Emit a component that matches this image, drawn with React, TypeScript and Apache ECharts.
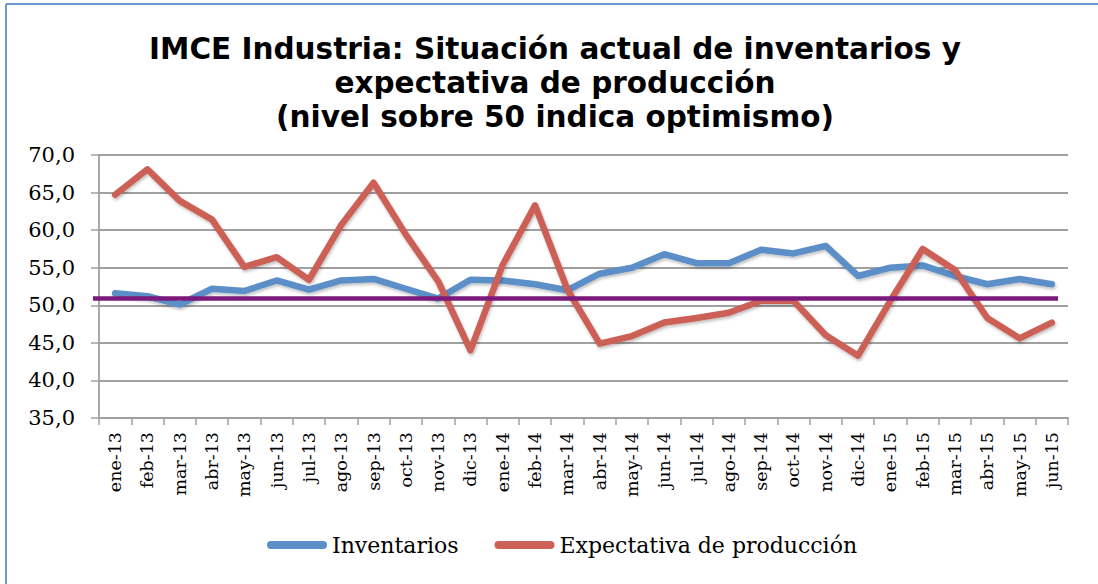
import React, { useEffect, useRef } from "react";
import * as echarts from "echarts";

const categories = [
  "ene-13", "feb-13", "mar-13", "abr-13", "may-13", "jun-13", "jul-13", "ago-13", "sep-13", "oct-13", "nov-13", "dic-13",
  "ene-14", "feb-14", "mar-14", "abr-14", "may-14", "jun-14", "jul-14", "ago-14", "sep-14", "oct-14", "nov-14", "dic-14",
  "ene-15", "feb-15", "mar-15", "abr-15", "may-15", "jun-15",
];

const inventarios = [
  51.6, 51.2, 50.1, 52.2, 51.9, 53.3, 52.1, 53.3, 53.5, 52.2, 50.9, 53.4,
  53.3, 52.8, 52.0, 54.2, 55.0, 56.8, 55.6, 55.6, 57.4, 56.9, 57.9, 53.9,
  55.0, 55.3, 53.9, 52.8, 53.5, 52.8,
];

const expectativa = [
  64.7, 68.1, 63.9, 61.4, 55.1, 56.4, 53.4, 60.7, 66.3, 59.4, 53.2, 44.0,
  55.4, 63.3, 52.1, 44.9, 45.9, 47.7, 48.3, 49.0, 50.6, 50.6, 46.0, 43.3,
  50.6, 57.5, 54.7, 48.3, 45.6, 47.7,
];

const threshold = 51.0;

const seriesNames = ["Inventarios", "Expectativa de producción"];
const titleText = "IMCE Industria: Situación actual de inventarios y\nexpectativa de producción\n(nivel sobre 50 indica optimismo)";

export default function App() {
  const ref = useRef<HTMLDivElement>(null);
  useEffect(() => {
    if (!ref.current) return;
    const chart = echarts.init(ref.current, null, { renderer: "svg" });
    const serif = "DejaVu Serif";
    const lineShadow = {
      shadowColor: "rgba(0,0,0,0.25)",
      shadowBlur: 3,
      shadowOffsetX: 1,
      shadowOffsetY: 2,
    };
    chart.setOption({
      animation: false,
      backgroundColor: "#ffffff",
      title: {
        text: titleText,
        left: 555,
        textAlign: "center",
        top: 32,
        padding: 0,
        textStyle: {
          fontFamily: "DejaVu Sans",
          fontWeight: "bold",
          fontSize: 29.5,
          lineHeight: 34,
          color: "#000",
        },
      },
      legend: {
        left: 262,
        top: 529,
        itemWidth: 60,
        itemHeight: 8,
        itemGap: 36,
        icon: "path://M4,0 H56 A4,4 0 0 1 56,8 H4 A4,4 0 0 1 4,0 Z",
        textStyle: { fontFamily: serif, fontSize: 22, color: "#000" },
        data: seriesNames,
      },
      grid: { left: 99, right: 30, top: 155, bottom: 166 },
      xAxis: {
        type: "category",
        data: categories,
        boundaryGap: true,
        axisLine: { show: true, lineStyle: { color: "#A0A0A0", width: 1.8 } },
        axisTick: { show: true, interval: 0, length: 7, lineStyle: { color: "#A0A0A0", width: 1.5 } },
        axisLabel: {
          interval: 0,
          rotate: 90,
          margin: 14,
          fontFamily: serif,
          fontSize: 17.5,
          color: "#000",
        },
        splitLine: { show: false },
      },
      yAxis: {
        type: "value",
        min: 35,
        max: 70,
        interval: 5,
        axisLine: { show: true, lineStyle: { color: "#A0A0A0", width: 1.8 } },
        axisTick: { show: true, length: 8, lineStyle: { color: "#A0A0A0", width: 1.5 } },
        axisLabel: {
          margin: 24,
          fontFamily: serif,
          fontSize: 21,
          color: "#000",
          formatter: (v: number) => v.toFixed(1).replace(".", ","),
        },
        splitLine: { show: true, lineStyle: { color: "#A0A0A0", width: 1.8 } },
      },
      series: [
        {
          name: seriesNames[0],
          type: "line",
          data: inventarios,
          symbol: "none",
          color: "#5B8FC8",
          lineStyle: { width: 6.5, color: "#5B8FC8", cap: "round", join: "round", ...lineShadow },
          z: 2,
        },
        {
          name: seriesNames[1],
          type: "line",
          data: expectativa,
          symbol: "none",
          color: "#CC6157",
          lineStyle: { width: 6.5, color: "#CC6157", cap: "round", join: "round", ...lineShadow },
          z: 3,
          markLine: {
            silent: true,
            z: 10,
            symbol: ["none", "none"],
            label: { show: false },
            lineStyle: {
              color: "#7B1A7C",
              width: 4.5,
              type: "solid",
            },
            data: [[
              { coord: [0, threshold], x: 93 },
              { coord: [categories.length - 1, threshold], x: 1058 },
            ]],
          },
        },
      ],
      graphic: [
        { type: "line", shape: { x1: 6, y1: 4, x2: 6, y2: 584 }, style: { stroke: "#6B9AD3", lineWidth: 2 }, z: 100 },
        { type: "line", shape: { x1: 6, y1: 4, x2: 1098, y2: 4 }, style: { stroke: "#6B9AD3", lineWidth: 2 }, z: 100 },
      ],
    });
    return () => chart.dispose();
  }, []);
  return (
    <div
      ref={ref}
      style={{ position: "fixed", left: 0, top: 0, width: 1098, height: 584, background: "#fff" }}
    />
  );
}
